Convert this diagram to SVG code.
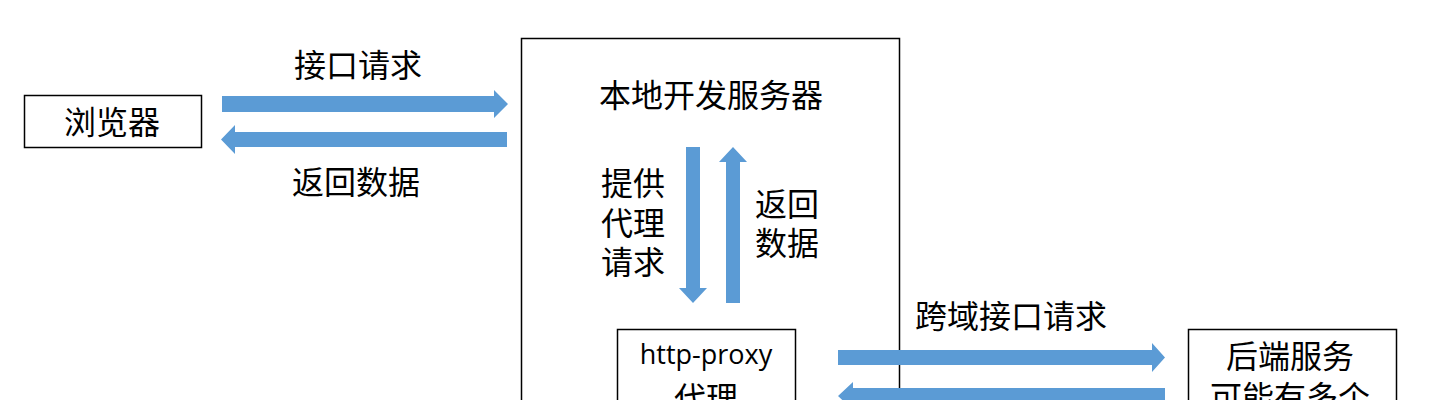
<svg xmlns="http://www.w3.org/2000/svg" width="1430" height="400" viewBox="0 0 1430 400">
<style>
.box{fill:#fff;stroke:#000;stroke-width:1.5}
.t{font-family:"Noto Sans CJK SC","Liberation Sans",sans-serif;font-size:32px;fill:#000}
.m{text-anchor:middle}
.en{font-family:"Open Sans","Liberation Sans",sans-serif;font-size:27px;fill:#000;text-anchor:middle}
.arr{fill:#5B9BD5}
</style>
<rect x="0" y="0" width="1430" height="400" fill="#fff"/>
<g id="browser">
<rect class="box" x="24.5" y="95.5" width="177" height="52"/>
<text class="t m" x="112" y="134">浏览器</text>
</g>
<g id="devserver">
<rect class="box" x="521.5" y="38.5" width="378" height="420"/>
<text class="t m" x="711" y="107">本地开发服务器</text>
</g>
<g id="proxy">
<rect class="box" x="617.5" y="329.5" width="178" height="100"/>
<text class="en" x="706" y="364">http-proxy</text>
<text class="t m" x="706" y="410">代理</text>
</g>
<g id="backend">
<rect class="box" x="1188.5" y="329.5" width="208" height="100"/>
<text class="t m" x="1290" y="368">后端服务</text>
<text class="t m" x="1290" y="409">可能有多个</text>
</g>
<g id="connectors">
<polygon class="arr" points="222,96 494,96 494,90 508,104 494,118 494,112 222,112"/>
<polygon class="arr" points="507,132 235,132 235,125 221,139.5 235,154 235,147 507,147"/>
<polygon class="arr" points="686,147 700,147 700,288 707,288 693,303 679,288 686,288"/>
<polygon class="arr" points="726,303 740,303 740,162 747,162 733,147 719,162 726,162"/>
<polygon class="arr" points="838,350 1152,350 1152,343 1165,357.5 1152,372 1152,365 838,365"/>
<polygon class="arr" points="1165,388 853,388 853,382 838,396 853,410 853,404 1165,404"/>
<text class="t m" x="358" y="77">接口请求</text>
<text class="t m" x="356" y="194">返回数据</text>
<text class="t" x="601" y="195">提供</text>
<text class="t" x="601" y="235">代理</text>
<text class="t" x="601" y="274">请求</text>
<text class="t" x="755" y="216">返回</text>
<text class="t" x="755" y="255">数据</text>
<text class="t" x="915" y="328">跨域接口请求</text>
</g>
</svg>
